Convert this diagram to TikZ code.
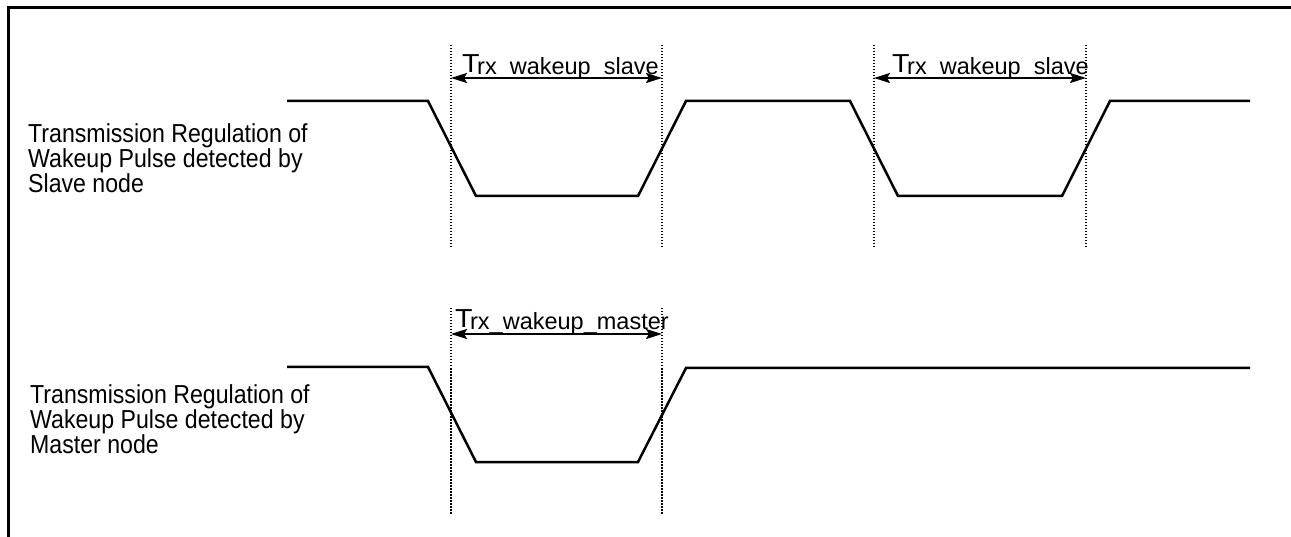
\documentclass[tikz,border=0pt]{standalone}
\usepackage{fontspec}
\setmainfont{Liberation Sans}
\newfontfamily\lblfont[FakeStretch=0.89]{Liberation Sans}
\newfontfamily\tfont[FakeStretch=1.1]{Liberation Sans}
\usetikzlibrary{arrows.meta}
\tikzset{
  frameline/.style={line width=3pt},
  wave/.style={line width=2.5pt, line join=miter},
  guide/.style={line width=1.8pt, dash pattern=on 1.5pt off 1.5pt},
  tip/.style={Stealth[length=16pt,width=10pt,inset=3pt]},
  span/.style={line width=2.4pt, {Stealth[length=16pt,width=10pt,inset=3pt]}-{Stealth[length=16pt,width=10pt,inset=3pt]}},
  sig/.style={anchor=north west, inner sep=0pt, align=left, font=\lblfont\fontsize{26}{21.7}\selectfont},
  tlbl/.style={anchor=base west, inner sep=0pt}
}
\newcommand{\tsub}[1]{{\tfont\fontsize{26}{26}\selectfont T}\kern-2.5pt\raisebox{-1.5pt}{\fontsize{23.5}{24}\selectfont #1}}
\begin{document}
\begin{tikzpicture}[x=1pt,y=-1pt]
\useasboundingbox (0,0) rectangle (1291,537);
% frame
\coordinate (fl) at (8.8,537);
\coordinate (fc) at (8.8,7.5);
\coordinate (fr) at (1291,7.5);
\draw[frameline] (fl) -- (fc) -- (fr);
% signal labels
\node[sig] (lab1) at (28,123) {Transmission Regulation of\\Wakeup Pulse detected by\\Slave node};
\node[sig] (lab2) at (30,384) {Transmission Regulation of\\Wakeup Pulse detected by\\Master node};
% waveforms
\draw[wave] (287,101) -- (428,101) -- (476,196) -- (638,196) -- (686,101) -- (850,101) -- (898,196) -- (1062,196) -- (1110,101) -- (1250,101);
\draw[wave] (287,367) -- (428,367) -- (476,462) -- (638,462) -- (686,368) -- (1250,368);
% guide lines
\coordinate (a1t) at (451,45);  \coordinate (a1b) at (451,248);
\coordinate (b1t) at (662,45);  \coordinate (b1b) at (662,248);
\coordinate (a2t) at (874,45);  \coordinate (a2b) at (874,248);
\coordinate (b2t) at (1086,45); \coordinate (b2b) at (1086,248);
\coordinate (a3t) at (451,308); \coordinate (a3b) at (451,515);
\coordinate (b3t) at (662,308); \coordinate (b3b) at (662,515);
\foreach \p in {a1,b1,a2,b2,a3,b3} \draw[guide] (\p t) -- (\p b);
% spans
\coordinate (s1a) at (451,78);  \coordinate (s1b) at (662,78);
\coordinate (s2a) at (874,78);  \coordinate (s2b) at (1086,78);
\coordinate (s3a) at (451,334); \coordinate (s3b) at (662,334);
\draw[span] (s1a) -- (s1b);
\draw[span] (s2a) -- (s2b);
\draw[span] (s3a) -- (s3b);
% span labels
\node[tlbl] (t1) at (462,73) {\tsub{rx\_wakeup\_slave}};
\node[tlbl] (t2) at (892,73) {\tsub{rx\_wakeup\_slave}};
\node[tlbl] (t3) at (455,328) {\tsub{rx\_wakeup\_master}};
\end{tikzpicture}
\end{document}
